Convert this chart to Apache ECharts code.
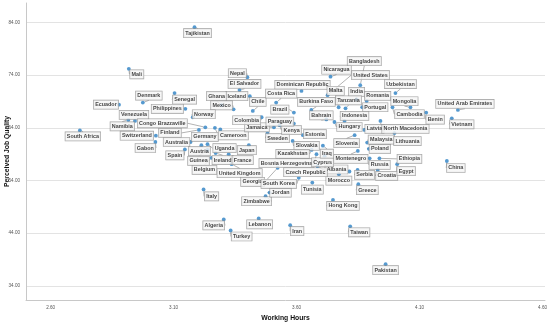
<!DOCTYPE html>
<html>
<head>
<meta charset="utf-8">
<script src="https://cdn.jsdelivr.net/npm/echarts@6/dist/echarts.min.js"></script>
<style>html,body{margin:0;padding:0;background:#fff}#c{width:550px;height:323px}</style>
</head>
<body>
<div id="c"></div>
<script>
const countries = ["Tajikistan","Mali","Nepal","El Salvador","Iceland","Ghana","Mexico","Chile","Dominican Republic","Costa Rica","Brazil","Nicaragua","United States","Bangladesh","Malta","India","Uzbekistan","Romania","Mongolia","Portugal","Tanzania","Burkina Faso","Cambodia","Benin","United Arab Emirates","Vietnam","China","Denmark","Ecuador","Senegal","Philippines","Norway","Venezuela","Namibia","Congo Brazzaville","South Africa","Switzerland","Gabon","Finland","Germany","Cameroon","Australia","Spain","Austria","Guinea","Belgium","Ireland","Uganda","Japan","France","United Kingdom","Italy","Algeria","Turkey","Lebanon","Iran","Zimbabwe","Jordan","Georgia","South Korea","Tunisia","Hong Kong","Taiwan","Pakistan","Greece","Morocco","Serbia","Croatia","Albania","Russia","Ethiopia","Egypt","Montenegro","Poland","Malaysia","Lithuania","Slovenia","Latvia","North Macedonia","Hungary","Bahrain","Indonesia","Estonia","Slovakia","Kazakhstan","Bosnia Herzegovina","Cyprus","Iraq","Czech Republic","Sweden","Jamaica","Kenya","Paraguay","Colombia"];
const workingHours = [3.185,2.918,3.400,3.368,3.410,3.295,3.344,3.422,3.620,3.517,3.589,3.738,3.726,3.859,3.771,3.844,4.002,3.885,4.063,3.867,3.799,3.660,3.990,4.127,4.256,4.231,4.211,2.975,2.878,3.104,3.148,3.178,2.943,2.916,3.229,2.719,3.028,3.026,3.203,3.268,3.290,3.169,3.146,3.213,3.238,3.254,3.271,3.238,3.406,3.324,3.336,3.222,3.304,3.332,3.446,3.574,3.474,3.490,3.523,3.609,3.664,3.748,3.818,3.962,3.851,3.772,3.848,3.930,3.815,3.897,3.937,4.009,3.849,3.894,3.887,3.998,3.836,3.876,3.941,3.754,3.721,3.795,3.626,3.584,3.661,3.681,3.714,3.707,3.685,3.482,3.508,3.531,3.589,3.458];
const jobQuality = [83.1,75.2,73.6,71.2,70.0,68.3,67.5,67.2,71.0,68.8,66.9,73.7,70.2,72.1,67.9,69.4,70.6,69.1,67.9,67.9,67.7,67.4,67.9,66.9,67.4,65.8,57.7,68.8,68.4,70.6,67.6,66.0,65.3,65.5,64.1,63.5,62.5,61.3,63.6,64.0,63.7,61.3,59.9,60.7,59.8,58.3,59.2,60.9,60.7,59.0,57.1,52.3,46.6,44.5,46.8,45.5,51.0,51.7,56.4,54.5,53.6,50.3,45.3,38.1,53.3,55.2,56.0,56.0,55.7,58.2,58.2,57.1,59.6,60.0,61.2,63.0,62.6,63.6,65.3,65.1,65.6,65.3,62.6,61.5,59.8,59.0,58.6,60.6,56.7,63.0,64.1,64.5,64.8,66.0];
const xTicks = [2.6,3.1,3.6,4.1,4.6];
const yTicks = [34,44,54,64,74,84];

// label placement (style): offset of label centre from its point, in px
const labelOffsets = {"Tajikistan":[3,6],"Mali":[8,5.5],"Nepal":[-10,-4],"El Salvador":[5,-6],"Iceland":[-13,0],"Ghana":[-5,-9],"Mexico":[-12,-4],"Chile":[5,-9],"Dominican Republic":[1,-6],"Costa Rica":[5,-9],"Brazil":[-14,-3],"Nicaragua":[6,-7],"United States":[43,-20],"Bangladesh":[4,-24],"Malta":[-3,-16.5],"India":[0,-7.5],"Uzbekistan":[5,-9],"Romania":[11,-5],"Mongolia":[-6,-6],"Portugal":[13,0],"Tanzania":[3,-8],"Burkina Faso":[5,-8],"Cambodia":[17,7],"Benin":[9,7],"United Arab Emirates":[7,-6],"Vietnam":[10,6],"China":[9,7],"Denmark":[6,-7],"Ecuador":[-13,0],"Senegal":[10,6.5],"Philippines":[-18,0],"Norway":[11,-3],"Venezuela":[-1,-6],"Namibia":[-6,6.5],"Congo Brazzaville":[-43,-4],"South Africa":[3,6],"Switzerland":[-19,0],"Gabon":[-10,6],"Finland":[-29,3],"Germany":[-10,9],"Cameroon":[13,6],"Australia":[-14,0],"Spain":[-10,6],"Austria":[-2,6],"Guinea":[-9,11],"Belgium":[-7,12],"Ireland":[7,7],"Uganda":[17,4],"Japan":[-2,5],"France":[14,6],"United Kingdom":[8,9],"Italy":[8,7],"Algeria":[-10,6],"Turkey":[11,6],"Lebanon":[1,6],"Iran":[7,6],"Zimbabwe":[-9,5],"Jordan":[11,0],"Georgia":[-25,14],"South Korea":[-20,6],"Tunisia":[0,7],"Hong Kong":[10,6],"Taiwan":[9,6],"Pakistan":[0,6],"Greece":[9,6],"Morocco":[0,6.5],"Serbia":[7,5],"Croatia":[9,6],"Albania":[-13,-2],"Russia":[10,6.5],"Ethiopia":[30,0.5],"Egypt":[9,7],"Montenegro":[-7,8],"Poland":[11,0],"Malaysia":[14,-3],"Lithuania":[13,8],"Slovenia":[-8,8],"Latvia":[10,-1],"North Macedonia":[25,8],"Hungary":[15,5],"Bahrain":[-5,-4],"Indonesia":[10,-5],"Estonia":[12,-1],"Slovakia":[14,5],"Kazakhstan":[-19,4],"Bosnia Herzegovina":[-30,9],"Cyprus":[-2,6],"Iraq":[4,8],"Czech Republic":[-12,6],"Sweden":[10,5],"Jamaica":[-17,0],"Kenya":[12,5],"Paraguay":[-14,-2],"Colombia":[-15,3]};

const data = countries.map((c, i) => ({name: c, value: [workingHours[i], jobQuality[i]]}));

const chart = echarts.init(document.getElementById('c'), null, {renderer: 'canvas'});
chart.setOption({
  animation: false,
  backgroundColor: '#fff',
  grid: {left: 26, right: 5, top: 3, bottom: 23, containLabel: false, outerBoundsMode: 'none'},
  xAxis: {
    type: 'value', min: 2.5, max: 4.61,
    name: 'Working Hours', nameLocation: 'middle', nameGap: 15, nameMoveOverlap: false,
    nameTextStyle: {fontFamily: 'Liberation Sans', fontWeight: 'bold', fontSize: 6.8, color: '#111'},
    axisLine: {show: true, lineStyle: {color: '#c8c8c8', width: 1}},
    axisTick: {show: false, customValues: xTicks},
    axisLabel: {customValues: xTicks, formatter: v => v.toFixed(2), fontSize: 4.6, color: '#555', fontFamily: 'Liberation Sans', margin: 5},
    splitLine: {show: false}
  },
  yAxis: {
    type: 'value', min: 31.3, max: 87.7,
    name: 'Perceived Job Quality', nameLocation: 'middle', nameGap: 15, nameMoveOverlap: false,
    nameTextStyle: {fontFamily: 'Liberation Sans', fontWeight: 'bold', fontSize: 6.8, color: '#111'},
    axisLine: {show: true, lineStyle: {color: '#c8c8c8', width: 1}},
    axisTick: {show: false, customValues: yTicks},
    axisLabel: {customValues: yTicks, formatter: v => v.toFixed(2), fontSize: 4.6, color: '#555', fontFamily: 'Liberation Sans', margin: 6},
    splitLine: {show: true, lineStyle: {color: '#e3e3e3', width: 1}}
  },
  series: [{
    type: 'scatter',
    data: data,
    symbolSize: 3.8,
    itemStyle: {color: '#2b7fc3'},
    label: {
      show: true, position: 'inside', align: 'center', verticalAlign: 'middle',
      formatter: p => p.name,
      fontFamily: 'Liberation Sans', fontSize: 5.4, fontWeight: 'bold', color: '#111',
      backgroundColor: '#f5f5f5', borderColor: '#8a8a8a', borderWidth: 0.6,
      padding: [1.2, 1.5, 0.8, 1.5], lineHeight: 6.5
    },
    labelLine: {show: true, lineStyle: {color: '#666', width: 0.5}},
    labelLayout: function (p) {
      const o = labelOffsets[countries[p.dataIndex]] || [6, 6];
      return {dx: o[0], dy: o[1], hideOverlap: false};
    }
  }]
});
</script>
</body>
</html>
